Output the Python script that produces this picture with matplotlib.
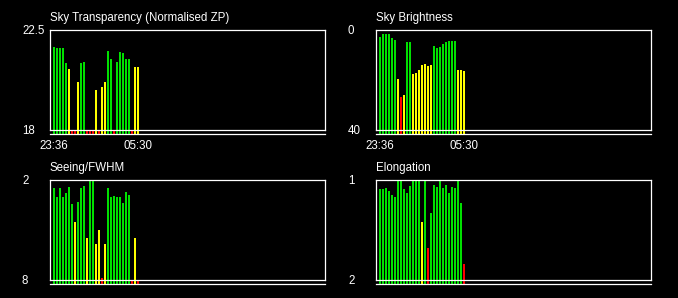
import numpy as np
import matplotlib
matplotlib.use("Agg")
import matplotlib.pyplot as plt

plt.rcParams['font.family'] = ['Liberation Sans', 'DejaVu Sans']

# night log, one bar per exposure block
transp = [21.74, 21.69, 21.69, 21.69, 21.0, 20.75, 17.9, 17.9, 20.16, 21.0,
          21.06, 17.9, 17.9, 17.9, 19.8, 17.9, 19.94, 20.16, 21.56, 21.2,
          17.9, 21.06, 21.51, 21.47, 21.2, 21.2, 17.9, 20.84, 20.84]
transp_q = "gggggyrrygg rrryryygg rgggggryy".replace(" ", "")

bright = [2.8, 1.6, 1.6, 1.6, 3.2, 4.0, 19.6, 26.8, 26.0, 4.8,
          4.8, 17.6, 17.2, 16.0, 14.0, 13.6, 14.4, 14.0, 6.4, 7.2,
          6.8, 5.6, 4.8, 4.4, 4.4, 4.4, 16.0, 16.0, 16.4]
bright_q = "ggggggyryggyyyyyyygggggggg yyy".replace(" ", "")

seeing = [2.48, 3.02, 2.48, 3.02, 2.78, 2.42, 3.44, 4.52, 3.32, 2.48,
          2.36, 5.48, 2.0, 2.0, 5.84, 5.0, 7.88, 5.84, 2.48, 3.02,
          2.96, 3.02, 3.02, 3.38, 2.72, 2.9, 8.2, 5.48, 8.2]
seeing_q = "gggggggyggg yggyyryggggggggryr".replace(" ", "")

elong = [1.09, 1.09, 1.08, 1.11, 1.15, 1.17, 1.0, 1.0, 1.09, 1.13,
         1.06, 1.0, 1.0, 1.0, 1.42, 1.0, 1.68, 1.33, 1.05, 1.07,
         1.0, 1.08, 1.05, 1.13, 1.07, 1.08, 1.0, 1.23, 1.84]
elong_q = "ggggggggggggggygrgggggggggggr"

time_labels = ["23:36", "05:30"]

colors = {"g": "#00e000", "y": "#ffff00", "r": "#ff0000"}

W, H = 678, 298
fig = plt.figure(figsize=(W / 100, H / 100), dpi=100, facecolor="black")

# title, values, flags, bottom of axis, top of axis, box (left, top) in px, show time labels
panels = [
    ("Sky Transparency (Normalised ZP)", transp, transp_q, 18, 22.5, (50, 30), True),
    ("Sky Brightness", bright, bright_q, 40, 0, (376, 30), True),
    ("Seeing/FWHM", seeing, seeing_q, 8, 2, (50, 180), False),
    ("Elongation", elong, elong_q, 2, 1, (376, 180), False),
]

for title, vals, flags, ybot, ytop, (bx, by), show_time in panels:
    bw, bh = 275, 100
    ax = fig.add_axes([bx / W, 1 - (by + bh) / H, bw / W, bh / H])
    ax.set_facecolor("black")
    for s in ax.spines.values():
        s.set_color("white")
        s.set_linewidth(0.9)

    x = np.arange(len(vals))
    lo, hi = min(ybot, ytop), max(ybot, ytop)
    v = np.clip(vals, lo, hi)
    base = ybot - 0.05 * (ytop - ybot)
    ax.bar(x, v - base, bottom=base, width=0.66, align="edge",
           color=[colors[f] for f in flags], clip_on=False, zorder=2)

    ax.set_xlim(-1.0, 90.67)
    ax.set_ylim(ybot, ytop)

    # second rule under the plot box
    ax.plot([0, 1], [-0.04, -0.04], transform=ax.transAxes, color="white",
            lw=0.9, clip_on=False, zorder=3)

    ax.set_yticks([ybot, ytop])
    ax.set_yticklabels([f"{ybot:g}", f"{ytop:g}"])
    ax.tick_params(axis="y", length=0, pad=20.2, colors="white", labelsize=8.3)
    for lab in ax.get_yticklabels():
        lab.set_horizontalalignment("left")

    if show_time:
        ax.set_xticks([0.33, 28.4])
        ax.set_xticklabels(time_labels)
        ax.tick_params(axis="x", length=0, pad=7.5, colors="white", labelsize=8.3)
    else:
        ax.set_xticks([])

    ax.set_title(title, loc="left", color="white", fontsize=8.3, pad=6.5)

fig.savefig("out.png", dpi=100, facecolor="black")
